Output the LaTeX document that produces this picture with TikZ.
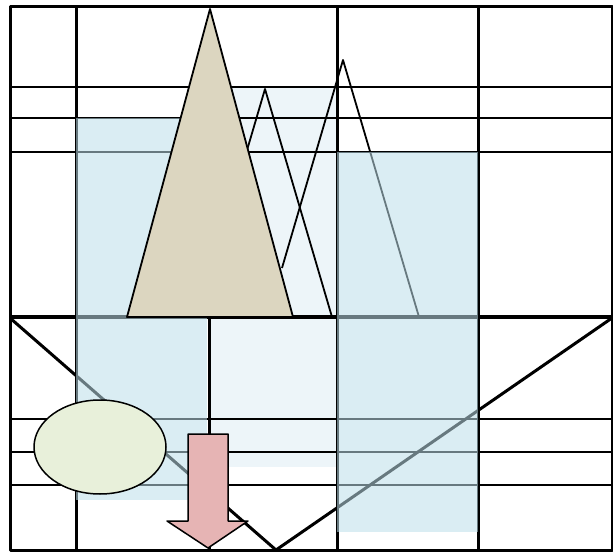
\documentclass[tikz,border=0pt]{standalone}
\usepackage{tikz}
\definecolor{paleblue}{RGB}{237,245,249}
\definecolor{iceblue}{RGB}{188,222,233}
\definecolor{sandtan}{RGB}{220,214,192}
\definecolor{sagegreen}{RGB}{232,240,218}
\definecolor{rosepink}{RGB}{230,180,180}

\begin{document}
\begin{tikzpicture}[x=1pt,y=-1pt,line join=round,
heavy/.style={draw=black, line width=3pt},
fine/.style={draw=black, line width=1.6pt},
leg/.style={draw=black, line width=1.8pt},
paleblock/.style={fill=paleblue},
iceblock/.style={fill=iceblue, fill opacity=0.55},
peak/.style={draw=black, line width=1.8pt, fill=sandtan},
blob/.style={draw=black, line width=1.5pt, fill=sagegreen},
drop/.style={draw=black, line width=1.5pt, fill=rosepink}]
\useasboundingbox (0,0) rectangle (613,553);
% pale block behind the grid
\fill[paleblock] (210,87) rectangle (337,467);
% thin grid lines
\draw[fine] (10,87) -- (612,87);
\draw[fine] (10,118) -- (612,118);
\draw[fine] (10,152) -- (612,152);
\draw[fine] (10,419) -- (612,419);
\draw[fine] (10,452) -- (612,452);
\draw[fine] (10,485) -- (612,485);
% heavy grid lines
\draw[heavy] (10,7) rectangle (612,550);
\draw[heavy] (10,317) -- (612,317);
\draw[heavy] (76,7) -- (76,550);
\draw[heavy] (337,7) -- (337,550);
\draw[heavy] (478,7) -- (478,550);
\draw[heavy] (209,317) -- (209,550);
% the V
\draw[heavy] (10,318) -- (276,550) -- (612,318);
% outline triangles
\draw[leg] (198,317) -- (265,89) -- (332,317);
\draw[leg] (282,268) -- (343,60) -- (419,317);
% blue blocks
\fill[iceblock] (76,118) rectangle (207,500);
\fill[iceblock] (337,152) rectangle (478,532);
% tan triangle
\draw[peak] (127,317) -- (210,9) -- (293,317) -- cycle;
% ellipse and arrow
\draw[blob] (100,447) ellipse [x radius=66, y radius=47];
\draw[drop] (188,434) -- (228,434) -- (228,521) -- (248,521) -- (208,548)
  -- (167,521) -- (188,521) -- cycle;
\end{tikzpicture}
\end{document}
